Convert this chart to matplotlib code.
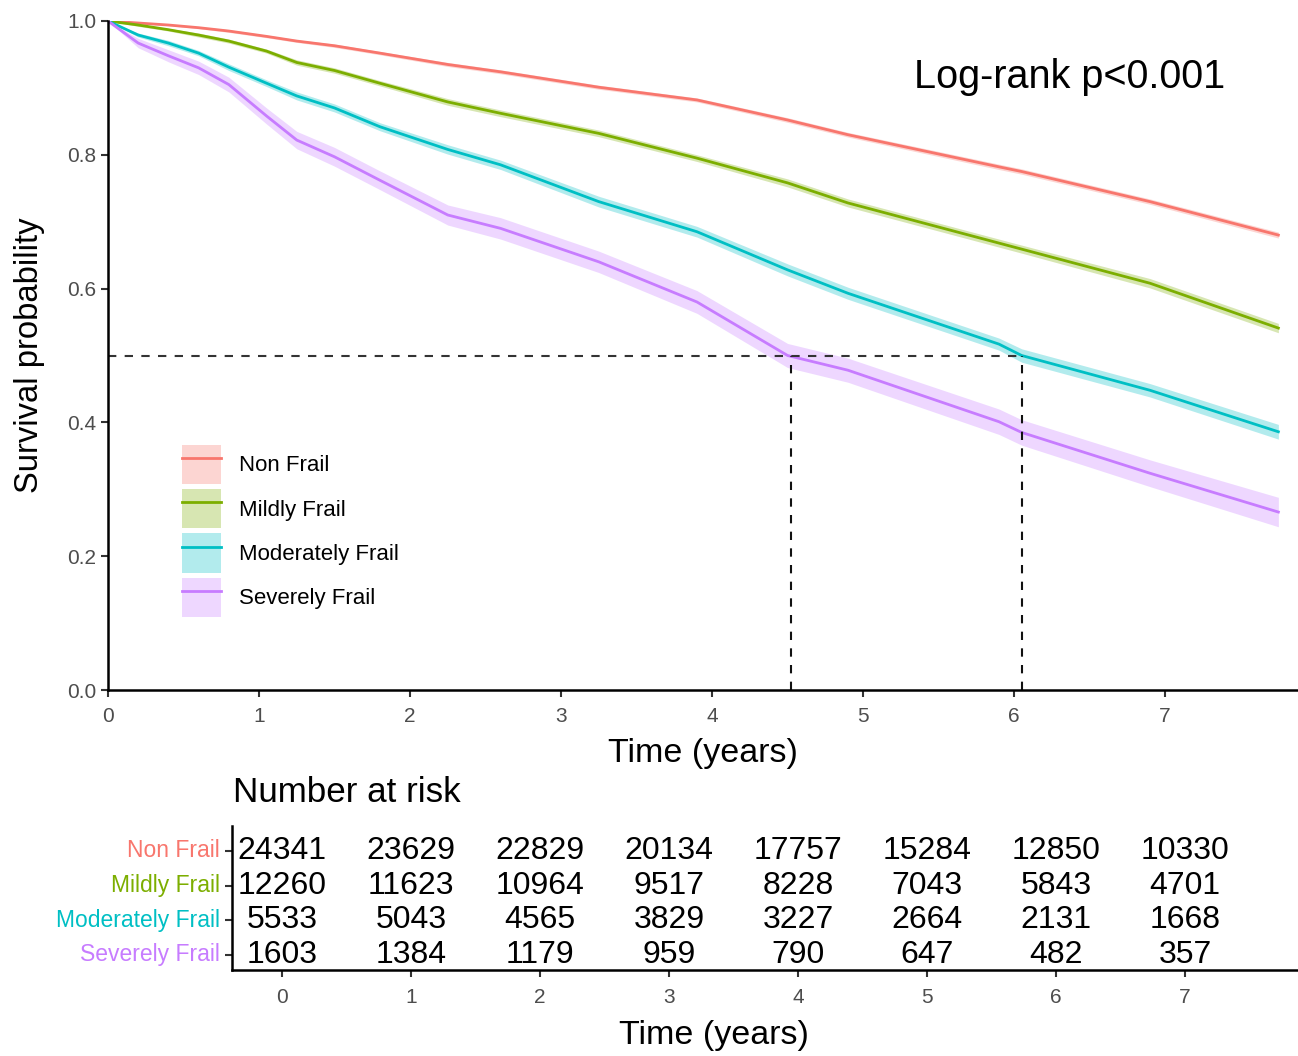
import numpy as np
import matplotlib
matplotlib.use('Agg')
import matplotlib.pyplot as plt
from matplotlib.patches import Patch
from matplotlib.lines import Line2D

plt.rcParams['font.family'] = ['Liberation Sans', 'DejaVu Sans']

groups = ['Non Frail', 'Mildly Frail', 'Moderately Frail', 'Severely Frail']
colors = ['#F8766D', '#7CAE00', '#00BFC4', '#C77CFF']

# survival curves (years)
times = [0, 0.2, 0.4, 0.6, 0.8, 1.05, 1.25, 1.5, 1.8, 2.25, 2.6, 3.25, 3.9, 4.5, 4.9, 5.9, 6.05, 6.9, 7.75]
surv_non = [1.0, 0.997, 0.994, 0.99, 0.985, 0.977, 0.97, 0.963, 0.952, 0.935, 0.924, 0.901, 0.882, 0.852, 0.83, 0.782, 0.775, 0.73, 0.68]
surv_mild = [1.0, 0.994, 0.987, 0.979, 0.97, 0.955, 0.938, 0.926, 0.907, 0.879, 0.862, 0.832, 0.795, 0.758, 0.728, 0.668, 0.659, 0.608, 0.541]
surv_mod = [1.0, 0.979, 0.967, 0.952, 0.931, 0.907, 0.888, 0.87, 0.842, 0.808, 0.785, 0.73, 0.685, 0.628, 0.593, 0.517, 0.5, 0.448, 0.386]
surv_sev = [1.0, 0.967, 0.948, 0.93, 0.905, 0.858, 0.822, 0.797, 0.762, 0.71, 0.69, 0.64, 0.58, 0.5, 0.478, 0.401, 0.385, 0.324, 0.266]

# half widths of the confidence bands
ci_non = [0, 0.001, 0.001, 0.0015, 0.002, 0.002, 0.002, 0.0025, 0.0025, 0.003, 0.003, 0.003, 0.003, 0.0035, 0.0035, 0.004, 0.004, 0.004, 0.0045]
ci_mild = [0, 0.002, 0.002, 0.003, 0.003, 0.003, 0.004, 0.004, 0.004, 0.005, 0.005, 0.005, 0.005, 0.006, 0.006, 0.006, 0.006, 0.007, 0.007]
ci_mod = [0, 0.003, 0.004, 0.004, 0.005, 0.005, 0.006, 0.006, 0.006, 0.007, 0.007, 0.008, 0.008, 0.009, 0.009, 0.009, 0.01, 0.01, 0.011]
ci_sev = [0, 0.007, 0.009, 0.01, 0.011, 0.012, 0.013, 0.014, 0.014, 0.015, 0.016, 0.016, 0.017, 0.018, 0.018, 0.019, 0.019, 0.02, 0.022]

median_times = [4.52, 6.05]

risk_times = [0, 1, 2, 3, 4, 5, 6, 7]
risk_non = [24341, 23629, 22829, 20134, 17757, 15284, 12850, 10330]
risk_mild = [12260, 11623, 10964, 9517, 8228, 7043, 5843, 4701]
risk_mod = [5533, 5043, 4565, 3829, 3227, 2664, 2131, 1668]
risk_sev = [1603, 1384, 1179, 959, 790, 647, 482, 357]

survs = [surv_non, surv_mild, surv_mod, surv_sev]
cis = [ci_non, ci_mild, ci_mod, ci_sev]
risks = [risk_non, risk_mild, risk_mod, risk_sev]

tick_grey = '#4D4D4D'

fig = plt.figure(figsize=(12.98, 10.56), dpi=100)
ax = fig.add_axes([108 / 1298, 1 - 690 / 1056, 1 - 108 / 1298, 669 / 1056])

t = np.array(times)
for s, c, col in zip(survs, cis, colors):
    s = np.array(s)
    c = np.array(c)
    ax.fill_between(t, s - c, s + c, color=col, alpha=0.3, lw=0)
    ax.plot(t, s, color=col, lw=2)

# median lines
ax.plot([0, median_times[1]], [0.5, 0.5], ls=(0, (4, 4)), color='#333333', lw=1.5)
for m in median_times:
    ax.plot([m, m], [0, 0.5], ls=(0, (4, 4)), color='#111111', lw=1.5)

ax.set_xlim(0, 7.88)
ax.set_ylim(0, 1.0)
ax.set_xticks(range(8))
ax.set_yticks([0, 0.2, 0.4, 0.6, 0.8, 1.0])
ax.set_yticklabels(['0.0', '0.2', '0.4', '0.6', '0.8', '1.0'])
for sp in ['top', 'right']:
    ax.spines[sp].set_visible(False)
for sp in ['left', 'bottom']:
    ax.spines[sp].set_linewidth(1.8)
ax.tick_params(axis='both', labelsize=15, labelcolor=tick_grey, color='#333333', length=5, width=1.5)
ax.tick_params(axis='x', pad=7)
ax.set_xlabel('Time (years)', fontsize=24.5, labelpad=9)
ax.set_ylabel('Survival probability', fontsize=23.6, labelpad=16)
ax.text(6.37, 0.916, 'Log-rank p<0.001', fontsize=28.5, ha='center', va='center')

handles = [(Patch(facecolor=col, alpha=0.3, lw=0), Line2D([], [], color=col, lw=2)) for col in colors]
leg = ax.legend(handles, groups, loc='upper left', bbox_to_anchor=(182 / 1298, 1 - 445 / 1056),
                bbox_transform=fig.transFigure, frameon=False, fontsize=16, borderpad=0,
                handlelength=1.75, handleheight=2.33, handletextpad=0.8, labelspacing=0.23,
                borderaxespad=0)

# risk table
axr = fig.add_axes([232 / 1298, 1 - 970 / 1056, 1 - 232 / 1298, 144 / 1056])
rows = [4, 3, 2, 1]
for r, vals in zip(rows, risks):
    for x, v in zip(risk_times, vals):
        axr.text(x, r, str(v), fontsize=23, ha='center', va='center')
axr.set_xlim(-0.388, 7.876)
axr.set_ylim(0.565, 4.715)
axr.set_xticks(risk_times)
axr.set_yticks(rows)
axr.set_yticklabels(groups)
for lab, col in zip(axr.get_yticklabels(), colors):
    lab.set_color(col)
    lab.set_va('center')
for sp in ['top', 'right']:
    axr.spines[sp].set_visible(False)
for sp in ['left', 'bottom']:
    axr.spines[sp].set_linewidth(1.8)
axr.tick_params(axis='y', labelsize=16.5, color='#333333', length=5, width=1.5)
axr.tick_params(axis='x', labelsize=15, labelcolor=tick_grey, color='#333333', length=5, width=1.5, pad=8)
axr.set_xlabel('Time (years)', fontsize=24.5)
axr.xaxis.set_label_coords((714 - 232) / 1066, -0.35)
fig.text(233 / 1298, 1 - 793 / 1056, 'Number at risk', fontsize=25.2, ha='left', va='center')

fig.savefig('out.png', dpi=100)
